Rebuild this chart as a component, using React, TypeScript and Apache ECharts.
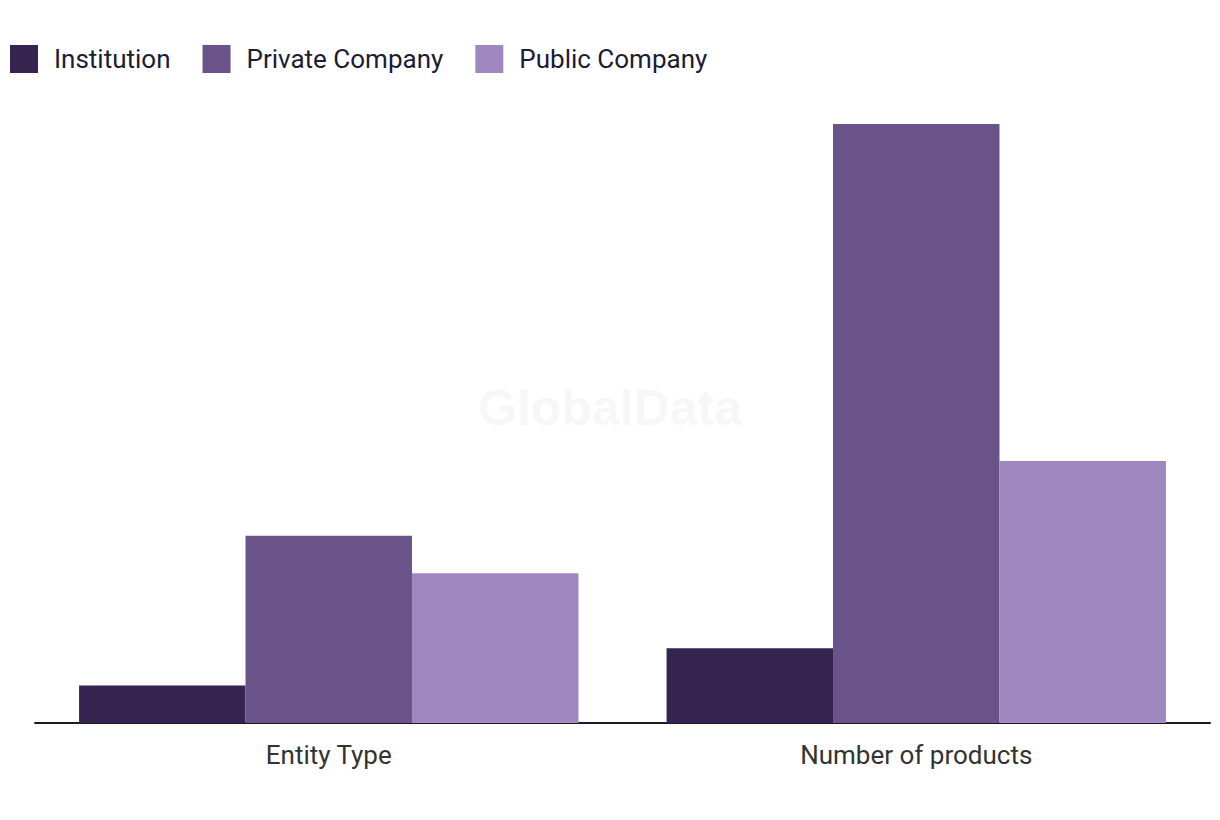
import React, { useEffect, useRef } from "react";
import * as echarts from "echarts";

const categories = ["Entity Type", "Number of products"];
const seriesNames = ["Institution", "Private Company", "Public Company"];
const institution = [1, 2];
const privateCompany = [5, 16];
const publicCompany = [4, 7];
const colors = ["#352350", "#6a5389", "#9f88c0"];

export default function App() {
  const ref = useRef<HTMLDivElement>(null);
  useEffect(() => {
    if (!ref.current) return;
    const chart = echarts.init(ref.current, undefined, { renderer: "svg" });
    const font = "Roboto";
    const values = [institution, privateCompany, publicCompany];
    chart.setOption({
      animation: false,
      color: colors,
      textStyle: { fontFamily: font },
      legend: {
        left: 10,
        top: 45,
        padding: 0,
        itemWidth: 28,
        itemHeight: 28,
        itemGap: 32,
        icon: "rect",
        data: seriesNames,
        textStyle: {
          fontSize: 26,
          lineHeight: 28,
          color: "#1c1c34",
          fontFamily: font,
          padding: [0, 0, 0, 11],
        },
      },
      graphic: [
        {
          type: "text",
          left: "center",
          top: 383,
          style: {
            text: "GlobalData",
            fontSize: 50,
            fontWeight: "bold",
            fontFamily: "Liberation Sans",
            fill: "#f7f7f7",
          },
          z: 0,
        },
      ],
      grid: { left: 35, right: 10, top: 124, bottom: 97, containLabel: false },
      xAxis: {
        type: "category",
        data: categories,
        axisLine: { lineStyle: { color: "#1a1a2e", width: 2 } },
        axisTick: { show: false },
        axisLabel: { fontSize: 26, color: "#333333", margin: 19, fontFamily: font },
      },
      yAxis: {
        type: "value",
        min: 0,
        max: 16,
        show: false,
        splitLine: { show: false },
      },
      series: seriesNames.map((name, i) => ({
        name,
        type: "bar",
        data: values[i],
        barGap: "0%",
        barCategoryGap: "15%",
        itemStyle: { color: colors[i] },
        z: 2,
      })),
    });
    return () => chart.dispose();
  }, []);
  return <div ref={ref} style={{ width: 1220, height: 820, position: "absolute", left: 0, top: 0 }} />;
}
